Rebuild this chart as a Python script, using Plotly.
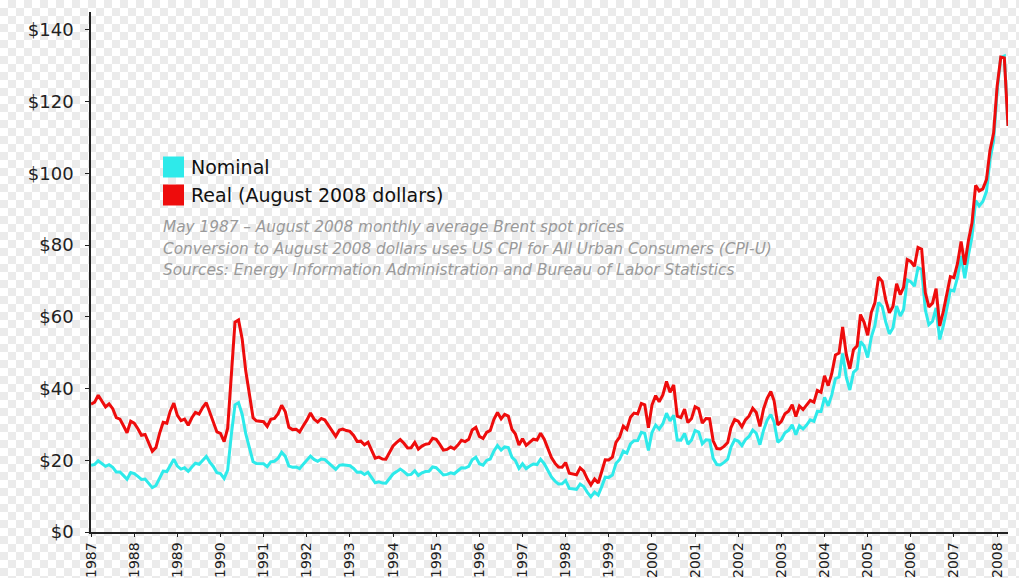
import pandas as pd
import plotly.graph_objects as go

# Monthly average Brent spot prices, May 1987 - August 2008 (USD/bbl)
nominal = [
    18.58, 18.86, 19.86, 18.98, 18.31, 18.76, 18.05, 16.75,                          # 1987 May-Dec
    16.75, 15.73, 14.73, 16.60, 16.31, 15.49, 14.66, 14.77, 13.52, 12.36, 12.96, 15.08,  # 1988
    16.99, 16.86, 18.68, 20.30, 18.37, 17.55, 17.89, 16.91, 18.10, 19.18, 18.89, 19.95,  # 1989
    21.08, 19.43, 18.28, 16.51, 16.27, 14.93, 17.23, 27.17, 35.46, 36.05, 32.77, 27.41,  # 1990
    23.21, 19.59, 19.09, 19.07, 19.04, 18.21, 19.58, 19.73, 20.57, 22.23, 21.08, 18.37,  # 1991
    18.07, 18.14, 17.65, 18.91, 19.89, 21.16, 20.24, 19.70, 20.34, 20.20, 19.26, 18.31,  # 1992
    17.44, 18.60, 18.75, 18.61, 18.46, 17.72, 16.68, 16.72, 16.05, 16.64, 15.07, 13.70,  # 1993
    14.01, 13.65, 13.62, 14.99, 16.18, 16.84, 17.53, 16.84, 15.94, 16.06, 17.07, 15.78,  # 1994
    16.50, 16.85, 16.95, 18.13, 17.93, 16.95, 15.91, 16.06, 16.51, 16.24, 16.97, 17.92,  # 1995
    17.83, 18.28, 20.12, 20.83, 19.04, 18.63, 19.95, 20.36, 22.57, 24.10, 22.82, 23.72,  # 1996
    23.54, 20.81, 19.94, 17.73, 19.03, 17.67, 18.40, 18.97, 18.80, 20.29, 19.05, 17.13,  # 1997
    15.34, 14.14, 13.38, 13.44, 14.38, 12.16, 12.08, 11.91, 13.34, 12.70, 11.04, 9.82,   # 1998
    11.11, 10.27, 12.51, 15.29, 15.23, 15.86, 19.08, 20.22, 22.54, 22.00, 24.58, 25.47,  # 1999
    25.51, 27.78, 27.49, 22.76, 27.74, 29.80, 28.68, 30.20, 33.14, 30.96, 32.55, 25.66,  # 2000
    25.62, 27.50, 24.50, 25.66, 28.31, 27.85, 24.61, 25.68, 25.62, 20.54, 18.80, 18.71,  # 2001
    19.42, 20.28, 23.70, 25.73, 25.35, 24.08, 25.74, 26.65, 28.40, 27.54, 24.34, 28.33,  # 2002
    31.18, 32.77, 30.61, 25.00, 25.86, 27.65, 28.35, 29.89, 27.11, 29.61, 28.75, 29.81,  # 2003
    31.28, 30.86, 33.63, 33.59, 37.57, 35.18, 38.22, 42.74, 43.20, 49.78, 43.11, 39.60,  # 2004
    44.51, 45.48, 53.10, 51.88, 48.65, 54.35, 57.52, 63.98, 62.91, 58.54, 55.24, 56.86,  # 2005
    62.99, 60.21, 62.06, 70.26, 69.78, 68.56, 73.67, 73.23, 61.96, 57.81, 58.76, 62.47,  # 2006
    53.68, 57.56, 62.05, 67.49, 67.21, 71.05, 76.93, 70.76, 77.17, 82.34, 92.41, 90.93,  # 2007
    92.18, 94.99, 103.64, 109.07, 122.80, 132.32, 132.72, 113.24,                      # 2008 Jan-Aug
]

# Same prices in August 2008 dollars
real = [
    35.67, 36.21, 38.13, 36.44, 34.88, 35.74, 34.39, 31.91,
    31.49, 29.57, 27.69, 30.88, 30.34, 28.81, 26.97, 27.18, 24.88, 22.50, 23.59, 27.45,
    30.58, 30.35, 33.62, 35.93, 32.51, 31.06, 31.49, 29.76, 31.86, 33.37, 32.87, 34.71,
    36.05, 33.23, 31.26, 27.90, 27.50, 25.23, 28.95, 45.24, 58.51, 59.12, 53.74, 44.95,
    37.72, 31.83, 31.02, 30.80, 30.75, 29.41, 31.43, 31.67, 33.01, 35.35, 33.52, 29.21,
    28.55, 28.66, 27.89, 29.65, 31.19, 33.18, 31.49, 30.65, 31.65, 31.21, 29.76, 28.29,
    26.68, 28.46, 28.69, 28.29, 28.06, 26.93, 25.27, 25.33, 24.32, 25.01, 22.65, 20.59,
    20.87, 20.34, 20.29, 22.23, 23.99, 24.97, 25.77, 24.75, 23.43, 23.51, 24.99, 23.10,
    23.96, 24.47, 24.61, 26.11, 25.82, 24.41, 22.82, 23.03, 23.68, 23.17, 24.22, 25.57,
    25.21, 25.85, 28.45, 29.16, 26.66, 26.08, 27.77, 28.34, 31.42, 33.33, 31.56, 32.80,
    32.32, 28.57, 27.38, 24.25, 26.03, 24.17, 25.10, 25.87, 25.64, 27.55, 25.87, 23.26,
    20.76, 19.13, 18.10, 18.09, 19.36, 16.37, 16.20, 15.97, 17.89, 16.98, 14.76, 13.13,
    14.80, 13.68, 16.66, 20.15, 20.07, 20.90, 24.99, 26.49, 29.53, 28.64, 32.00, 33.16,
    32.91, 35.84, 35.46, 29.04, 35.40, 38.02, 36.31, 38.23, 41.96, 38.98, 40.98, 32.31,
    31.90, 34.24, 30.50, 31.64, 34.91, 34.34, 30.34, 31.66, 31.59, 25.43, 23.27, 23.16,
    23.87, 24.92, 29.13, 31.36, 30.90, 29.35, 31.25, 32.35, 34.48, 33.30, 29.43, 34.25,
    37.26, 39.16, 36.58, 29.83, 30.85, 32.99, 33.65, 35.48, 32.18, 35.15, 34.13, 35.38,
    36.72, 36.23, 39.48, 38.96, 43.58, 40.81, 44.14, 49.36, 49.90, 57.20, 49.53, 45.50,
    50.83, 51.94, 60.64, 58.47, 54.83, 61.25, 63.90, 71.08, 69.89, 64.75, 61.10, 62.89,
    69.23, 66.17, 68.20, 75.95, 75.43, 74.11, 79.34, 78.87, 66.73, 62.78, 63.81, 67.84,
    57.44, 61.59, 66.39, 71.20, 70.91, 74.96, 81.01, 74.51, 81.26, 86.13, 96.66, 95.11,
    95.68, 98.31, 106.34, 111.25, 124.27, 132.45, 132.19, 113.24,
]

months = pd.date_range("1987-05-01", periods=len(nominal), freq="MS")

tick_years = list(range(1987, 2009))
tick_dates = [pd.Timestamp(f"{y}-05-01") for y in tick_years]
tick_text = [str(y) for y in tick_years]

y_ticks = [0, 20, 40, 60, 80, 100, 120, 140]
y_text = ["$" + str(v) for v in y_ticks]

series_names = ["Nominal", "Real (August 2008 dollars)"]
series_colors = ["#2eeaea", "#ee0c0c"]

notes = [
    "May 1987 \u2013 August 2008 monthly average Brent spot prices",
    "Conversion to August 2008 dollars uses US CPI for All Urban Consumers (CPI-U)",
    "Sources: Energy Information Administration and Bureau of Labor Statistics",
]

FONT = "DejaVu Sans, Liberation Sans, Arial, sans-serif"
W, H = 1019, 578
PL, PR, PT, PB = 91, 1008, 12, 532   # plot-area edges in px
CHECK = 8                            # checkerboard square size in px


def fx(px):
    return px / W


def fy(py):
    return 1 - py / H


fig = go.Figure()

# full-figure checkerboard (transparency-style backdrop) on a hidden pixel subplot
ncols, nrows = -(-W // CHECK), -(-H // CHECK)
checker = [[(i + j) % 2 for i in range(ncols)] for j in range(nrows)]
fig.add_trace(go.Heatmap(
    z=checker, x0=CHECK / 2, dx=CHECK, y0=CHECK / 2, dy=CHECK,
    colorscale=[[0, "#ffffff"], [1, "#ebebeb"]], showscale=False,
    hoverinfo="skip", xaxis="x", yaxis="y", zsmooth=False,
))

for name, vals, col in zip(series_names, [nominal, real], series_colors):
    fig.add_trace(go.Scatter(
        x=months, y=vals, mode="lines", name=name,
        line=dict(color=col, width=3), showlegend=False,
        xaxis="x2", yaxis="y2",
        hovertemplate="%{x|%b %Y}: $%{y:.2f}<extra>" + name + "</extra>",
    ))

# legend squares and labels
leg_y = [167, 195]
for name, col, cy in zip(series_names, series_colors, leg_y):
    fig.add_shape(type="rect", xref="paper", yref="paper",
                  x0=fx(163), x1=fx(184), y0=fy(cy - 10.5), y1=fy(cy + 10.5),
                  fillcolor=col, line=dict(width=0))
    fig.add_annotation(xref="paper", yref="paper", x=fx(189), y=fy(cy),
                       xanchor="left", yanchor="middle", showarrow=False, text=name,
                       font=dict(family=FONT, size=19, color="#111111"))

note_y = [227, 249, 270]
for t, cy in zip(notes, note_y):
    fig.add_annotation(xref="paper", yref="paper", x=fx(161), y=fy(cy),
                       xanchor="left", yanchor="middle", showarrow=False,
                       text="<i>" + t + "</i>",
                       font=dict(family=FONT, size=15.3, color="#9a9a9a"))

fig.update_layout(
    width=W, height=H,
    margin=dict(l=0, r=0, t=0, b=0, pad=0, autoexpand=False),
    paper_bgcolor="white", plot_bgcolor="rgba(0,0,0,0)",
    font=dict(family=FONT, color="#222222"),
    showlegend=False,
    xaxis=dict(domain=[0, 1], range=[0, W], visible=False, fixedrange=True),
    yaxis=dict(domain=[0, 1], range=[H, 0], visible=False, fixedrange=True),
    xaxis2=dict(
        domain=[fx(PL), fx(PR)], anchor="y2",
        range=[months[0], months[-1]], tickvals=tick_dates, ticktext=tick_text,
        tickangle=-90, tickfont=dict(size=14, color="#222222"),
        showgrid=False, zeroline=False, showline=True, linecolor="#222222", linewidth=1.5,
        ticks="outside", ticklen=3, tickcolor="#222222", tickwidth=1,
        automargin=False,
    ),
    yaxis2=dict(
        domain=[fy(PB), fy(PT)], anchor="x2",
        range=[0, 145], tickvals=y_ticks, ticktext=y_text,
        tickfont=dict(size=18, color="#222222"),
        showgrid=False, zeroline=False, showline=True, linecolor="#222222", linewidth=1.5,
        ticks="outside", ticklen=4, tickcolor="#222222", tickwidth=1,
        ticklabelstandoff=8, automargin=False,
    ),
)

fig.write_html(
    "out.html",
    config={"displayModeBar": False},
    post_script="document.body.style.margin='0';document.body.style.overflow='hidden';",
)
